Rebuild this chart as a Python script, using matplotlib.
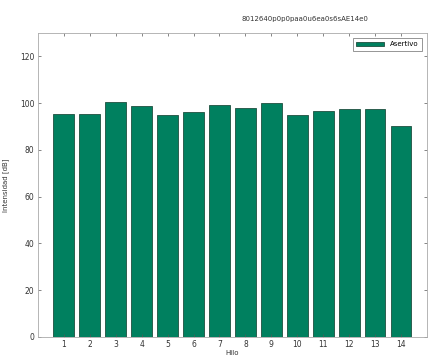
import numpy as np
import matplotlib.pyplot as plt

grupos = np.arange(1, 15)
valores = [95.5, 95.3, 100.6, 98.8, 94.9, 96.3, 99.0, 97.9, 99.9, 95.0, 96.7, 97.4, 97.4, 90.0]
serie = 'Asertivo'
titulo = '8012640p0p0paa0u6ea0s6sAE14e0'

plt.rcParams['font.family'] = 'DejaVu Sans'
plt.rcParams['font.size'] = 5

fig = plt.figure(figsize=(4.3, 3.59), dpi=100)
ax = fig.add_axes([0.088, 0.062, 0.905, 0.846])

ax.bar(grupos, valores, width=0.8, color='#00805f', edgecolor='#1f4f3f', linewidth=0.6, label=serie)
ax.set_xlim(0, 15)
ax.set_ylim(0, 130)
ax.set_xticks(grupos)
ax.set_yticks(np.arange(0, 121, 20))
ax.tick_params(direction='in', top=True, right=True, length=2.5, width=0.5, colors='#555555',
               labelcolor='#333333', labelsize=5.5, pad=2.5)
for s in ax.spines.values():
    s.set_color('#aaaaaa')
    s.set_linewidth(0.6)

ax.set_ylabel('Intensidad [dB]', fontsize=5, color='#333333', labelpad=8)
ax.set_xlabel('Hilo', fontsize=5, color='#333333', labelpad=0.5)
fig.text(0.71, 0.948, titulo, fontsize=5, color='#333333', ha='center', va='center')

leg = ax.legend(loc='upper right', fontsize=5, fancybox=False, edgecolor='#666666',
                handlelength=4, borderpad=0.5, bbox_to_anchor=(0.995, 0.995))
leg.get_frame().set_linewidth(0.6)

fig.savefig('out.png', dpi=100)
